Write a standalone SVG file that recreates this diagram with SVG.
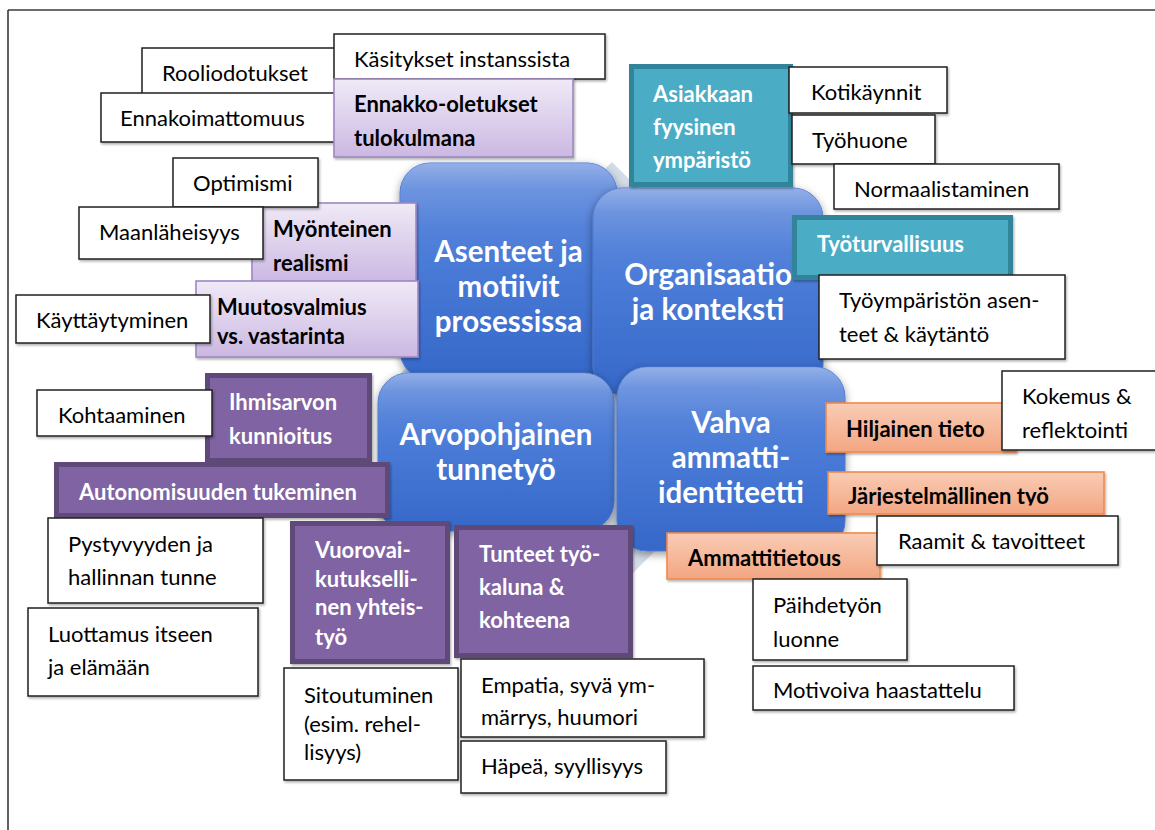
<svg xmlns="http://www.w3.org/2000/svg" width="1155" height="830" viewBox="0 0 1155 830">
<defs>
<linearGradient id="gBL" x1="0" y1="0" x2="0" y2="1">
<stop offset="0" stop-color="#6890de"/>
<stop offset="0.45" stop-color="#4a7bd7"/>
<stop offset="1" stop-color="#3668c9"/>
</linearGradient>
<linearGradient id="gGloss" x1="0" y1="0" x2="0" y2="1">
<stop offset="0" stop-color="#ffffff" stop-opacity="0.28"/>
<stop offset="0.12" stop-color="#ffffff" stop-opacity="0.08"/>
<stop offset="0.3" stop-color="#ffffff" stop-opacity="0"/>
</linearGradient>
<linearGradient id="gLP" x1="0" y1="0" x2="0" y2="1">
<stop offset="0" stop-color="#f0eaf7"/>
<stop offset="1" stop-color="#cbb8e2"/>
</linearGradient>
<linearGradient id="gOR" x1="0" y1="0" x2="0" y2="1">
<stop offset="0" stop-color="#f9ccb5"/>
<stop offset="1" stop-color="#f3a682"/>
</linearGradient>
<filter id="sh" x="-10%" y="-10%" width="120%" height="130%">
<feDropShadow dx="1.2" dy="1.8" stdDeviation="1.2" flood-color="#000" flood-opacity="0.3"/>
</filter>
<filter id="shB" x="-15%" y="-15%" width="130%" height="135%">
<feDropShadow dx="0" dy="3" stdDeviation="4" flood-color="#000" flood-opacity="0.4"/>
</filter>
<clipPath id="clipJ"><rect x="828" y="472" width="276" height="33.5"/></clipPath>
</defs>
<style>
.w{fill:#fff;stroke:#1f1f1f;stroke-width:1.5;filter:url(#sh)}
.lp{fill:url(#gLP);stroke:#9e88c3;stroke-width:1.6;filter:url(#sh)}
.dp{fill:#8064a2;stroke:#5e4879;stroke-width:5;filter:url(#sh)}
.tl{fill:#4bacc6;stroke:#31849b;stroke-width:5;filter:url(#sh)}
.or{fill:url(#gOR);stroke:#f08a4b;stroke-width:1.6;filter:url(#sh)}
.bl{fill:url(#gBL);stroke:#4b78cf;stroke-width:1;filter:url(#shB)}
.gl{fill:url(#gGloss)}
text{font-family:Lato,"Liberation Sans",sans-serif;font-size:22px;fill:#000}
.b{font-weight:bold}
.wt{font-weight:bold;fill:#fff}
.big{font-size:29.5px;font-weight:bold;fill:#fff;text-anchor:middle}
.frame{stroke:#3a3a3a;stroke-width:1.6;fill:none}
</style>

<g id="frame">
<line class="frame" x1="8" y1="10" x2="1155" y2="10"/>
<line class="frame" x1="8" y1="10" x2="8" y2="830"/>
</g>

<g id="background-diamond">
<polygon points="612,162 828,378 612,594 396,378" fill="#d3dce9"/>
</g>

<g id="connectors"/>

<g id="asenteet">
<rect class="bl" x="400" y="163" width="217" height="217" rx="30"/>
<rect class="gl" x="400" y="163" width="217" height="217" rx="30"/>
<text class="big" x="508.5" y="262">Asenteet ja</text>
<text class="big" x="508.5" y="297">motiivit</text>
<text class="big" x="508.5" y="332">prosessissa</text>
</g>
<g id="organisaatio">
<rect class="bl" x="593" y="188" width="230" height="207" rx="30"/>
<rect class="gl" x="593" y="188" width="230" height="207" rx="30"/>
<text class="big" x="708" y="285">Organisaatio</text>
<text class="big" x="708" y="320">ja konteksti</text>
</g>
<g id="arvopohjainen">
<rect class="bl" x="378" y="373" width="236" height="158" rx="30"/>
<rect class="gl" x="378" y="373" width="236" height="158" rx="30"/>
<text class="big" x="496" y="445">Arvopohjainen</text>
<text class="big" x="496" y="480">tunnetyö</text>
</g>
<g id="vahva">
<rect class="bl" x="617" y="367" width="228" height="184" rx="30"/>
<rect class="gl" x="617" y="367" width="228" height="184" rx="30"/>
<text class="big" x="731" y="433">Vahva</text>
<text class="big" x="731" y="468">ammatti-</text>
<text class="big" x="731" y="503">identiteetti</text>
</g>

<g id="rooliodotukset">
<rect class="w" x="142" y="48" width="198" height="47"/>
<text x="162" y="81">Rooliodotukset</text>
</g>
<g id="ennakoimattomuus">
<rect class="w" x="101" y="93" width="244" height="49"/>
<text x="120" y="126">Ennakoimattomuus</text>
</g>
<g id="kasitykset">
<rect class="w" x="334" y="34" width="271" height="45"/>
<text x="354" y="67">Käsitykset instanssista</text>
</g>
<g id="ennakko-oletukset">
<rect class="lp" x="334" y="79" width="239" height="78"/>
<text class="b" x="354" y="112">Ennakko-oletukset</text>
<text class="b" x="354" y="146">tulokulmana</text>
</g>

<g id="myonteinen-realismi">
<rect class="lp" x="252" y="203" width="164" height="79"/>
<text class="b" x="273" y="237">Myönteinen</text>
<text class="b" x="273" y="271">realismi</text>
</g>
<g id="optimismi">
<rect class="w" x="173" y="158" width="145" height="49"/>
<text x="193" y="191">Optimismi</text>
</g>
<g id="maanlaheisyys">
<rect class="w" x="79" y="207" width="184" height="52"/>
<text x="99" y="240">Maanläheisyys</text>
</g>
<g id="muutosvalmius">
<rect class="lp" x="196" y="281" width="222" height="76"/>
<text class="b" x="217" y="315">Muutosvalmius</text>
<text class="b" x="217" y="344">vs. vastarinta</text>
</g>
<g id="kayttaytyminen">
<rect class="w" x="16" y="295" width="194" height="48"/>
<text x="36" y="328">Käyttäytyminen</text>
</g>

<g id="ihmisarvon-kunnioitus">
<rect class="dp" x="207.5" y="375.5" width="162" height="85"/>
<text class="wt" x="229" y="410">Ihmisarvon</text>
<text class="wt" x="229" y="444">kunnioitus</text>
</g>
<g id="kohtaaminen">
<rect class="w" x="37" y="390" width="175" height="46"/>
<text x="58" y="423">Kohtaaminen</text>
</g>
<g id="autonomisuuden-tukeminen">
<rect class="dp" x="56.5" y="464.5" width="331" height="51"/>
<text class="wt" x="79" y="500">Autonomisuuden tukeminen</text>
</g>
<g id="pystyvyyden">
<rect class="w" x="48" y="518" width="215" height="85"/>
<text x="68" y="552">Pystyvyyden ja</text>
<text x="68" y="585">hallinnan tunne</text>
</g>
<g id="luottamus">
<rect class="w" x="28" y="608" width="230" height="88"/>
<text x="48" y="642">Luottamus itseen</text>
<text x="48" y="675">ja elämään</text>
</g>

<g id="vuorovaikutuksellinen">
<rect class="dp" x="292.5" y="523.5" width="155" height="138"/>
<text class="wt" x="315" y="558">Vuorovai-</text>
<text class="wt" x="315" y="587">kutukselli-</text>
<text class="wt" x="315" y="615">nen yhteis-</text>
<text class="wt" x="315" y="645">työ</text>
</g>
<g id="tunteet">
<rect class="dp" x="456.5" y="527.5" width="174" height="128"/>
<text class="wt" x="479" y="562">Tunteet työ-</text>
<text class="wt" x="479" y="595">kaluna &amp;</text>
<text class="wt" x="479" y="628">kohteena</text>
</g>
<g id="sitoutuminen">
<rect class="w" x="284" y="668" width="174" height="112"/>
<text x="304" y="703">Sitoutuminen</text>
<text x="304" y="732">(esim. rehel-</text>
<text x="304" y="760">lisyys)</text>
</g>
<g id="empatia">
<rect class="w" x="461" y="659" width="243" height="78"/>
<text x="481" y="693">Empatia, syvä ym-</text>
<text x="481" y="725">märrys, huumori</text>
</g>
<g id="hapea">
<rect class="w" x="461" y="741" width="205" height="52"/>
<text x="481" y="774">Häpeä, syyllisyys</text>
</g>

<g id="asiakkaan-ymparisto">
<rect class="tl" x="631.5" y="66.5" width="159" height="118"/>
<text class="wt" x="653" y="102">Asiakkaan</text>
<text class="wt" x="653" y="135">fyysinen</text>
<text class="wt" x="653" y="168">ympäristö</text>
</g>
<g id="kotikaynnit">
<rect class="w" x="789" y="67" width="158" height="46"/>
<text x="811" y="100">Kotikäynnit</text>
</g>
<g id="tyohuone">
<rect class="w" x="792" y="115" width="143" height="49"/>
<text x="812" y="148">Työhuone</text>
</g>
<g id="normaalistaminen">
<rect class="w" x="834" y="164" width="225" height="45"/>
<text x="854" y="197">Normaalistaminen</text>
</g>
<g id="tyoturvallisuus">
<rect class="tl" x="794.5" y="217.5" width="216" height="60"/>
<text class="wt" x="817" y="252">Työturvallisuus</text>
</g>
<g id="tyoympariston">
<rect class="w" x="819" y="275" width="246" height="84"/>
<text x="839" y="308">Työympäristön asen-</text>
<text x="839" y="342">teet &amp; käytäntö</text>
</g>

<g id="hiljainen-tieto">
<rect class="or" x="826" y="403" width="190" height="49"/>
<text class="b" x="846" y="437">Hiljainen tieto</text>
</g>
<g id="kokemus">
<rect class="w" x="1002" y="371" width="165" height="79"/>
<text x="1022" y="404">Kokemus &amp;</text>
<text x="1022" y="438">reflektointi</text>
</g>
<g id="jarjestelmallinen">
<rect class="or" x="828" y="472" width="276" height="42"/>
<text class="b" x="848" y="504" clip-path="url(#clipJ)">Järjestelmällinen työ</text>
</g>
<g id="ammattitietous">
<rect class="or" x="667" y="533" width="213" height="46"/>
<text class="b" x="688" y="566">Ammattitietous</text>
</g>
<g id="raamit">
<rect class="w" x="877" y="516" width="241" height="49"/>
<text x="898" y="549">Raamit &amp; tavoitteet</text>
</g>
<g id="paihdetyon-luonne">
<rect class="w" x="753" y="579" width="154" height="81"/>
<text x="773" y="613">Päihdetyön</text>
<text x="773" y="647">luonne</text>
</g>
<g id="motivoiva">
<rect class="w" x="753" y="666" width="261" height="44"/>
<text x="773" y="698">Motivoiva haastattelu</text>
</g>
</svg>
